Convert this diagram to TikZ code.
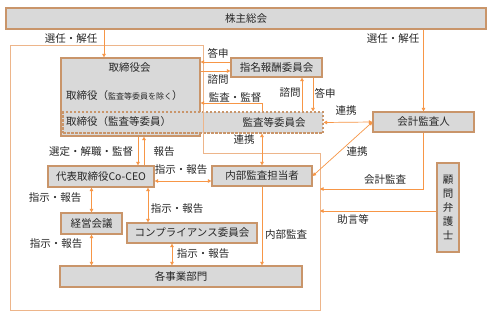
\documentclass[tikz,border=0pt]{standalone}
\usepackage{fontspec}
\setmainfont{Noto Sans CJK JP}
\usetikzlibrary{arrows.meta,calc}
\definecolor{boxfill}{HTML}{D9D9D9}
\definecolor{boxline}{HTML}{C9956A}
\definecolor{arrc}{HTML}{F79646}
\definecolor{framec}{HTML}{EDB58A}
\definecolor{txt}{HTML}{262626}
\tikzset{
  box/.style={draw=boxline, line width=1.2pt, fill=boxfill, inner sep=0pt, text=txt},
  dbox/.style={draw=boxline, line width=1.1pt, dash pattern=on 2.5pt off 1.5pt, fill=boxfill, inner sep=0pt},
  lbl/.style={inner sep=0pt, text=txt},
  arr/.style={draw=arrc, line width=0.7pt, -{Triangle[length=3.5pt,width=3.5pt]}},
  darr/.style={draw=arrc, line width=0.7pt, {Triangle[length=3.5pt,width=3.5pt]}-{Triangle[length=3.5pt,width=3.5pt]}},
  framel/.style={draw=framec, line width=0.9pt}
}
\begin{document}
\begin{tikzpicture}[x=1pt,y=-1pt, font=\fontsize{10.5}{12}\selectfont]
\useasboundingbox (0,0) rectangle (495,316);
\fill[white] (0,0) rectangle (495,316);

% boxes
\node[box, minimum width=480pt, minimum height=21pt] (kabu) at (246,18.5) {株主総会};
\node[box, minimum width=139pt, minimum height=78pt] (tori) at (130.5,97) {};
\node[dbox, minimum width=260pt, minimum height=21pt] (band) at (193,122.5) {};
\node[box, minimum width=91pt, minimum height=19pt] (shimei) at (276.5,67.5) {指名報酬委員会};
\node[box, minimum width=101pt, minimum height=20pt] (kaikei) at (423.5,122) {会計監査人};
\node[box, minimum width=100pt, minimum height=20pt] (naibu) at (262,176) {内部監査担当者};
\node[box, minimum width=106pt, minimum height=21pt] (ceo) at (101,176.5) {代表取締役Co-CEO};
\node[box, minimum width=61pt, minimum height=21pt] (keiei) at (91.5,223.5) {経営会議};
\node[box, minimum width=130pt, minimum height=20pt] (comp) at (192,233) {コンプライアンス委員会};
\node[box, minimum width=242pt, minimum height=21pt] (jigyo) at (181,276.5) {各事業部門};
\node[box, minimum width=22pt, minimum height=89pt, align=center, font=\fontsize{10.5}{14}\selectfont] (komon) at (448,207.5) {顧\\問\\弁\\護\\士};

% texts inside board box and band
\node[lbl] (toritxt) at (129.5,68) {取締役会};
\node[lbl, anchor=west] (torijo) at (66,95.5) {取締役（{\fontsize{8}{10}\selectfont 監査等委員を除く}）};
\node[lbl, anchor=west] (torikan) at (66,122) {取締役（監査等委員）};
\node[lbl] (kansa) at (274,122) {監査等委員会};

% outer frame
\coordinate (fA) at (10,45);
\coordinate (fB) at (203,45);
\coordinate (fC) at (203,153);
\coordinate (fD) at (320,153);
\coordinate (fE) at (320,310);
\coordinate (fF) at (10,310);
\draw[framel] (fA) -- (fB) -- (fC) -- (fD) -- (fE) -- (fF) -- cycle;

% helper coordinates
\coordinate (xL) at (104,0);
\coordinate (y62) at (0,62);
\coordinate (y71) at (0,71);
\coordinate (x302) at (302,0);
\coordinate (x313) at (313,0);
\coordinate (x262) at (262,0);
\coordinate (y103) at (0,103);
\coordinate (x138) at (138,0);
\coordinate (x144) at (144,0);
\coordinate (y181) at (0,181);
\coordinate (x148) at (148,0);
\coordinate (x172) at (172,0);
\coordinate (audit) at (320,189);
\coordinate (advice) at (320,211);

% connectors
\draw[arr] (kabu.south -| xL) -- (tori.north -| xL);
\draw[arr] (kabu.south -| kaikei.north) -- (kaikei.north);
\draw[arr] (shimei.west |- y62) -- (tori.east |- y62);
\draw[arr] (tori.east |- y71) -- (shimei.west |- y71);
\draw[arr] (band.north -| x302) -- (shimei.south -| x302);
\draw[arr] (shimei.south -| x313) -- (band.north -| x313);
\draw[arr] (band.north -| x262) |- (tori.east |- y103);
\draw[darr] (band.east) -- (kaikei.west);
\draw[darr] (kaikei.west) -- (naibu.east);
\draw[darr] (band.south -| naibu.north) -- (naibu.north);
\draw[arr] (kaikei.south) |- (audit);
\draw[arr] (komon.west |- advice) -- (advice);
\draw[arr] (naibu.south) -- (naibu.south |- jigyo.north);
\draw[arr] (tori.south -| x138) -- (ceo.north -| x138);
\draw[arr] (ceo.north -| x144) -- (tori.south -| x144);
\draw[darr] (ceo.east |- y181) -- (naibu.west |- y181);
\draw[darr] (ceo.south -| keiei.north) -- (keiei.north);
\draw[darr] (ceo.south -| x148) -- (comp.north -| x148);
\draw[darr] (keiei.south) -- (keiei.south |- jigyo.north);
\draw[darr] (comp.south -| x172) -- (jigyo.north -| x172);

% labels
\node[lbl] (l1) at (71,39) {選任・解任};
\node[lbl] (l2) at (393,39) {選任・解任};
\node[lbl] (l3) at (218,53) {答申};
\node[lbl] (l4) at (218,80) {諮問};
\node[lbl] (l5) at (290,93) {諮問};
\node[lbl] (l6) at (325,93) {答申};
\node[lbl] (l7) at (235,98) {監査・監督};
\node[lbl] (l8) at (346,111) {連携};
\node[lbl] (l9) at (357,152) {連携};
\node[lbl] (l10) at (244,140) {連携};
\node[lbl] (l11) at (385,180) {会計監査};
\node[lbl] (l12) at (353,219) {助言等};
\node[lbl] (l13) at (286,235) {内部監査};
\node[lbl] (l14) at (91,152) {選定・解職・監督};
\node[lbl] (l15) at (164,152) {報告};
\node[lbl] (l16) at (181,170) {指示・報告};
\node[lbl] (l17) at (55,198) {指示・報告};
\node[lbl] (l18) at (177,209) {指示・報告};
\node[lbl] (l19) at (203,254) {指示・報告};
\node[lbl] (l20) at (56,244) {指示・報告};
\end{tikzpicture}
\end{document}
